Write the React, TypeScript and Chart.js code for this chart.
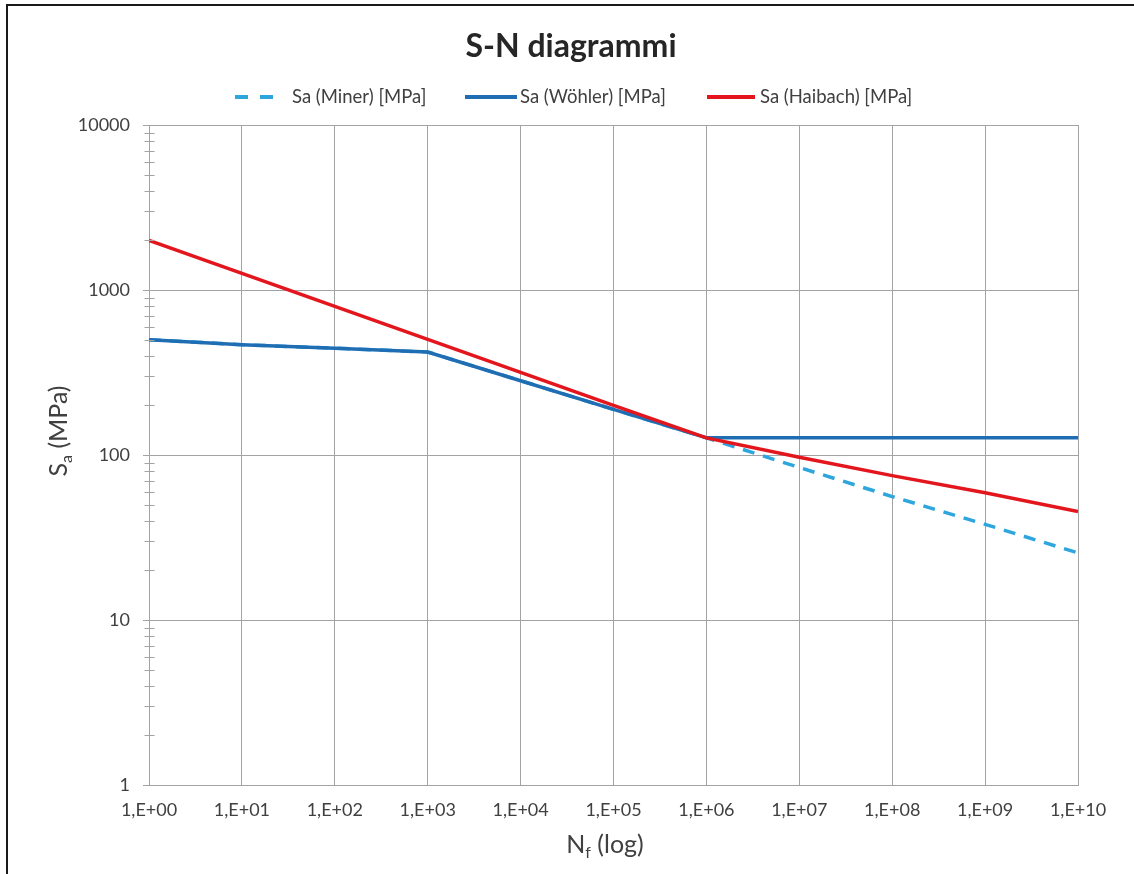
import React, { useEffect, useRef } from "react";
import { Chart, registerables } from "chart.js";

Chart.register(...registerables);

// ---- data ----
const chartTitle = "S-N diagrammi";
const seriesNames = ["Sa (Miner) [MPa]", "Sa (Wöhler) [MPa]", "Sa (Haibach) [MPa]"];
const cycles = [1, 1e1, 1e2, 1e3, 1e4, 1e5, 1e6, 1e7, 1e8, 1e9, 1e10];
const saMiner = [500, 466, 444, 421, 282, 189, 127, 84, 56, 38, 25.5];
const saWohler = [500, 466, 444, 421, 282, 189, 127, 127, 127, 127, 127];
const saHaibach = [2000, 1262, 796, 502, 317, 200, 127, 97, 75, 59, 45.5];
const xTickValues = [1, 1e1, 1e2, 1e3, 1e4, 1e5, 1e6, 1e7, 1e8, 1e9, 1e10];
const xTickLabels = ["1,E+00", "1,E+01", "1,E+02", "1,E+03", "1,E+04", "1,E+05", "1,E+06", "1,E+07", "1,E+08", "1,E+09", "1,E+10"];
const yTickValues = [1, 10, 100, 1000, 10000];
const yTickLabels = ["1", "10", "100", "1000", "10000"];
const xTitleParts = [{ t: "N" }, { t: "f", sub: true }, { t: " (log)" }];
const yTitleParts = [{ t: "S" }, { t: "a", sub: true }, { t: " (MPa)" }];

// ---- styles ----
const colMiner = "#2ea6dd";
const colWohler = "#1f6eb3";
const colHaibach = "#e3161d";
const gridCol = "#a3a3a3";
const textCol = "#404040";
const FONT = "Lato";

type Part = { t: string; sub?: boolean };

function richWidth(ctx: CanvasRenderingContext2D, parts: Part[], size: number, subSize: number) {
  let w = 0;
  for (const p of parts) {
    ctx.font = `${p.sub ? subSize : size}px ${FONT}`;
    w += ctx.measureText(p.t).width;
  }
  return w;
}

function drawRich(ctx: CanvasRenderingContext2D, parts: Part[], cx: number, baseline: number, size: number, subSize: number, subDrop: number) {
  const total = richWidth(ctx, parts, size, subSize);
  let x = cx - total / 2;
  ctx.textAlign = "left";
  ctx.textBaseline = "alphabetic";
  for (const p of parts) {
    ctx.font = `${p.sub ? subSize : size}px ${FONT}`;
    ctx.fillText(p.t, x, baseline + (p.sub ? subDrop : 0));
    x += ctx.measureText(p.t).width;
  }
}

const decorPlugin = {
  id: "decor",
  afterDraw(chart: any) {
    const ctx: CanvasRenderingContext2D = chart.ctx;
    ctx.save();

    // outer frame (left + top edges visible)
    ctx.strokeStyle = "#1a1a1a";
    ctx.lineWidth = 2;
    ctx.beginPath();
    ctx.moveTo(7, chart.height);
    ctx.lineTo(7, 5);
    ctx.lineTo(chart.width, 5);
    ctx.stroke();

    // title
    ctx.fillStyle = "#262626";
    ctx.font = `bold 32px ${FONT}`;
    ctx.textAlign = "center";
    ctx.textBaseline = "alphabetic";
    ctx.fillText(chartTitle, 571, 57);

    // legend
    const ly = 97;
    ctx.font = `18.5px ${FONT}`;
    ctx.textAlign = "left";
    ctx.textBaseline = "middle";
    ctx.lineWidth = 4;
    ctx.lineCap = "butt";
    // Miner (dashed)
    ctx.strokeStyle = colMiner;
    ctx.setLineDash([13, 12]);
    ctx.beginPath();
    ctx.moveTo(235, ly);
    ctx.lineTo(273, ly);
    ctx.stroke();
    ctx.setLineDash([]);
    ctx.fillStyle = textCol;
    ctx.fillText(seriesNames[0], 292, ly);
    // Wöhler
    ctx.strokeStyle = colWohler;
    ctx.beginPath();
    ctx.moveTo(465, ly);
    ctx.lineTo(517, ly);
    ctx.stroke();
    ctx.fillText(seriesNames[1], 520, ly);
    // Haibach
    ctx.strokeStyle = colHaibach;
    ctx.beginPath();
    ctx.moveTo(707, ly);
    ctx.lineTo(755, ly);
    ctx.stroke();
    ctx.fillText(seriesNames[2], 760, ly);

    // minor ticks on y axis
    const ys = chart.scales.y;
    const ax = Math.round(ys.right) + 0.5;
    ctx.strokeStyle = gridCol;
    ctx.lineWidth = 1;
    ctx.beginPath();
    for (let d = 0; d < yTickValues.length - 1; d++) {
      for (let m = 2; m <= 9; m++) {
        const v = m * yTickValues[d];
        const py = Math.round(ys.getPixelForValue(v)) + 0.5;
        ctx.moveTo(ax - 5, py);
        ctx.lineTo(ax + 5, py);
      }
    }
    ctx.stroke();

    // axis titles
    ctx.fillStyle = textCol;
    drawRich(ctx, xTitleParts, 605, 853, 25, 16, 5);
    ctx.save();
    ctx.translate(67, 431);
    ctx.rotate(-Math.PI / 2);
    drawRich(ctx, yTitleParts, 0, 0, 25, 16, 5);
    ctx.restore();

    ctx.restore();
  },
};

export default function App() {
  const ref = useRef<HTMLCanvasElement | null>(null);

  useEffect(() => {
    if (!ref.current) return;
    const toPts = (arr: number[]) => cycles.map((c, i) => ({ x: c, y: arr[i] }));
    const chart = new Chart(ref.current, {
      type: "line",
      data: {
        datasets: [
          {
            label: seriesNames[0],
            data: toPts(saMiner),
            borderColor: colMiner,
            backgroundColor: colMiner,
            borderWidth: 3.5,
            borderDash: [12, 9],
            pointRadius: 0,
            tension: 0,
            order: 3,
          },
          {
            label: seriesNames[1],
            data: toPts(saWohler),
            borderColor: colWohler,
            backgroundColor: colWohler,
            borderWidth: 3.5,
            pointRadius: 0,
            tension: 0,
            order: 2,
          },
          {
            label: seriesNames[2],
            data: toPts(saHaibach),
            borderColor: colHaibach,
            backgroundColor: colHaibach,
            borderWidth: 3.5,
            pointRadius: 0,
            tension: 0,
            order: 1,
          },
        ],
      },
      options: {
        responsive: false,
        animation: false,
        devicePixelRatio: 1,
        layout: { padding: { top: 125, right: 56, left: 0, bottom: 0 } },
        plugins: {
          legend: { display: false },
          title: { display: false },
          tooltip: { enabled: false },
        },
        scales: {
          x: {
            type: "logarithmic",
            min: 1,
            max: 1e10,
            afterBuildTicks: (s: any) => {
              s.ticks = xTickValues.map((v) => ({ value: v }));
            },
            afterFit: (s: any) => {
              s.height = 89;
            },
            ticks: {
              autoSkip: false,
              maxRotation: 0,
              padding: 14,
              color: textCol,
              font: { family: FONT, size: 18 },
              callback: (_v: any, i: number) => xTickLabels[i],
            },
            grid: { color: gridCol, lineWidth: 1, drawTicks: false },
            border: { color: gridCol, width: 1 },
          },
          y: {
            type: "logarithmic",
            min: 1,
            max: 10000,
            afterBuildTicks: (s: any) => {
              s.ticks = yTickValues.map((v) => ({ value: v }));
            },
            afterFit: (s: any) => {
              s.width = 149;
            },
            ticks: {
              autoSkip: false,
              padding: 13,
              color: textCol,
              font: { family: FONT, size: 18 },
              callback: (_v: any, i: number) => yTickLabels[i],
            },
            grid: { color: gridCol, lineWidth: 1, drawTicks: true, tickLength: 6 },
            border: { color: gridCol, width: 1 },
          },
        },
      },
      plugins: [decorPlugin],
    });
    return () => chart.destroy();
  }, []);

  return (
    <div style={{ position: "absolute", left: 0, top: 0, width: 1134, height: 874, background: "#fff" }}>
      <canvas ref={ref} width={1134} height={874} style={{ display: "block" }} />
    </div>
  );
}
